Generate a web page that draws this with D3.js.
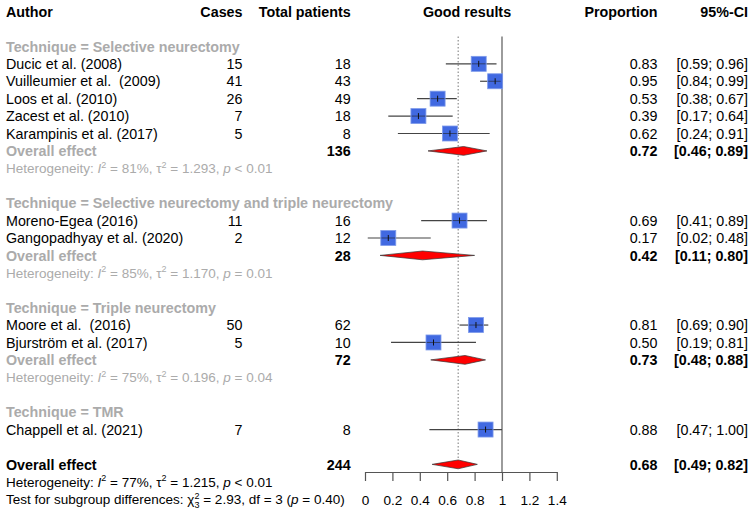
<!DOCTYPE html>
<html>
<head>
<meta charset="utf-8">
<script src="https://cdn.jsdelivr.net/npm/d3@7"></script>
<style>
  html, body { margin: 0; padding: 0; background: #fff; }
  svg text { font-family: "Liberation Sans", Arial, Helvetica, sans-serif; white-space: pre; }
</style>
</head>
<body>
<svg id="chart" width="754" height="512"></svg>
<script>
// ---------- data ----------
const studyAuthors = ["Ducic et al. (2008)", "Vuilleumier et al.  (2009)", "Loos et al. (2010)",
  "Zacest et al. (2010)", "Karampinis et al. (2017)", "Moreno-Egea (2016)",
  "Gangopadhyay et al. (2020)", "Moore et al.  (2016)", "Bjurström et al. (2017)", "Chappell et al. (2021)"];
const studyGroup = [0, 0, 0, 0, 0, 1, 1, 2, 2, 3];
const studyCases = [15, 41, 26, 7, 5, 11, 2, 50, 5, 7];
const studyTotals = [18, 43, 49, 18, 8, 16, 12, 62, 10, 8];
const studyProp = [0.83, 0.95, 0.53, 0.39, 0.62, 0.69, 0.17, 0.81, 0.50, 0.88];
const studyLower = [0.59, 0.84, 0.38, 0.17, 0.24, 0.41, 0.02, 0.69, 0.19, 0.47];
const studyUpper = [0.96, 0.99, 0.67, 0.64, 0.91, 0.89, 0.48, 0.90, 0.81, 1.00];

const groupNames = ["Selective neurectomy", "Selective neurectomy and triple neurectomy", "Triple neurectomy", "TMR"];
const groupTotals = [136, 28, 72, 8];
const groupProp = [0.72, 0.42, 0.73, null];
const groupLower = [0.46, 0.11, 0.48, null];
const groupUpper = [0.89, 0.80, 0.88, null];
const groupI2 = ["81%", "85%", "75%", null];
const groupTau2 = ["1.293", "1.170", "0.196", null];
const groupP = ["< 0.01", "= 0.01", "= 0.04", null];

const overallTotal = 244;
const overallProp = 0.68, overallLower = 0.49, overallUpper = 0.82;
const overallI2 = "77%", overallTau2 = "1.215", overallP = "< 0.01";
const testChi2 = "2.93", testDf = 3, testP = "0.40";

const axisTicks = [0, 0.2, 0.4, 0.6, 0.8, 1, 1.2, 1.4];
const axisTickLabels = ["0", "0.2", "0.4", "0.6", "0.8", "1", "1.2", "1.4"];

// ---------- layout ----------
const svg = d3.select("#chart");
const GRAY = "#ababab";
const FS = 14.3, FSH = 13.5;
const x = d3.scaleLinear().domain([0, 1.4]).range([365, 556.8]);
const yRow = d3.scaleLinear().domain([0, 28]).range([11.6, 499.2]);
const colAuthor = 6, colCases = 242.5, colTotal = 350.7, colProp = 657.5, colCI = 748;
const f2 = d3.format(".2f");
const ciText = (l, u) => "[" + f2(l) + "; " + f2(u) + "]";

function txt(xp, k, s, opt = {}) {
  return svg.append("text")
    .attr("x", xp).attr("y", yRow(k)).attr("dy", "0.36em")
    .attr("text-anchor", opt.anchor || "start")
    .attr("font-size", opt.size || FS)
    .attr("font-weight", opt.bold ? "bold" : "normal")
    .attr("fill", opt.color || "#000")
    .text(s);
}
function hetText(k, i2, tau2, p, color) {
  const t = svg.append("text").attr("x", colAuthor).attr("y", yRow(k)).attr("dy", "0.36em")
    .attr("font-size", FSH).attr("fill", color);
  t.append("tspan").text("Heterogeneity: ");
  t.append("tspan").attr("font-style", "italic").text("I");
  t.append("tspan").attr("font-size", 9).attr("dy", -5.5).text("2");
  t.append("tspan").attr("dy", 5.5).text(" = " + i2 + ", \u03c4");
  t.append("tspan").attr("font-size", 9).attr("dy", -5.5).text("2");
  t.append("tspan").attr("dy", 5.5).text(" = " + tau2 + ", ");
  t.append("tspan").attr("font-style", "italic").text("p");
  t.append("tspan").text(" " + p);
}

// header
txt(colAuthor, 0, "Author", { bold: true });
txt(colCases, 0, "Cases", { bold: true, anchor: "end" });
txt(colTotal, 0, "Total patients", { bold: true, anchor: "end" });
txt(467, 0, "Good results", { bold: true, anchor: "middle" });
txt(colProp, 0, "Proportion", { bold: true, anchor: "end" });
txt(colCI, 0, "95%-CI", { bold: true, anchor: "end" });

// build rows
const studyRows = [], diamondRows = [];
let k = 2;
groupNames.forEach((g, gi) => {
  txt(colAuthor, k, "Technique = " + g, { bold: true, color: GRAY });
  k++;
  studyAuthors.forEach((a, i) => {
    if (studyGroup[i] !== gi) return;
    studyRows.push({ k, i });
    k++;
  });
  if (groupProp[gi] !== null) {
    txt(colAuthor, k, "Overall effect", { bold: true, color: GRAY });
    txt(colTotal, k, String(groupTotals[gi]), { bold: true, anchor: "end" });
    txt(colProp, k, f2(groupProp[gi]), { bold: true, anchor: "end" });
    txt(colCI, k, ciText(groupLower[gi], groupUpper[gi]), { bold: true, anchor: "end" });
    diamondRows.push({ k, est: groupProp[gi], lo: groupLower[gi], hi: groupUpper[gi] });
    k++;
    hetText(k, groupI2[gi], groupTau2[gi], groupP[gi], GRAY);
    k++;
  }
  k++;
});
const overallRow = k;
txt(colAuthor, overallRow, "Overall effect", { bold: true });
txt(colTotal, overallRow, String(overallTotal), { bold: true, anchor: "end" });
txt(colProp, overallRow, f2(overallProp), { bold: true, anchor: "end" });
txt(colCI, overallRow, ciText(overallLower, overallUpper), { bold: true, anchor: "end" });
diamondRows.push({ k: overallRow, est: overallProp, lo: overallLower, hi: overallUpper });
hetText(overallRow + 1, overallI2, overallTau2, overallP, "#000");
{
  const t = svg.append("text").attr("x", colAuthor).attr("y", yRow(overallRow + 2)).attr("dy", "0.36em")
    .attr("font-size", FSH).attr("fill", "#000");
  t.append("tspan").text("Test for subgroup differences: \u03c7");
  t.append("tspan").attr("font-size", 9).attr("dy", -5.5).text("2");
  t.append("tspan").attr("font-size", 9).attr("dx", -5).attr("dy", 9.5).text(String(testDf));
  t.append("tspan").attr("dy", -4).text(" = " + testChi2 + ", df = " + testDf + " (");
  t.append("tspan").attr("font-style", "italic").text("p");
  t.append("tspan").text(" = " + testP + ")");
}

// study text columns
studyRows.forEach(r => {
  const i = r.i;
  txt(colAuthor, r.k, studyAuthors[i]);
  txt(colCases, r.k, String(studyCases[i]), { anchor: "end" });
  txt(colTotal, r.k, String(studyTotals[i]), { anchor: "end" });
  txt(colProp, r.k, f2(studyProp[i]), { anchor: "end" });
  txt(colCI, r.k, ciText(studyLower[i], studyUpper[i]), { anchor: "end" });
});

// reference lines
const axisY = 472;
svg.append("line").attr("x1", x(1)).attr("x2", x(1)).attr("y1", 36.5).attr("y2", axisY)
  .attr("stroke", "#666").attr("stroke-width", 1.3);
svg.append("line").attr("x1", x(overallProp)).attr("x2", x(overallProp)).attr("y1", 36.5).attr("y2", yRow(overallRow) - 4)
  .attr("stroke", "#777").attr("stroke-width", 1).attr("stroke-dasharray", "1.5,2");

// study CIs and squares
const SQ = 15;
studyRows.forEach(r => {
  const i = r.i, yy = yRow(r.k);
  svg.append("line").attr("x1", x(studyLower[i])).attr("x2", x(studyUpper[i]))
    .attr("y1", yy).attr("y2", yy).attr("stroke", "#444").attr("stroke-width", 1.2);
  svg.append("rect").attr("x", x(studyProp[i]) - SQ / 2).attr("y", yy - SQ / 2)
    .attr("width", SQ).attr("height", SQ).attr("fill", "#4169e1")
    .attr("stroke", "#7f9bea").attr("stroke-width", 0.8);
  svg.append("line").attr("x1", x(Math.max(studyLower[i], studyProp[i] - 0.05))).attr("x2", x(Math.min(studyUpper[i], studyProp[i] + 0.05)))
    .attr("y1", yy).attr("y2", yy).attr("stroke", "#222").attr("stroke-width", 1).attr("opacity", 0.6);
  svg.append("line").attr("x1", x(studyProp[i])).attr("x2", x(studyProp[i]))
    .attr("y1", yy - 3).attr("y2", yy + 3).attr("stroke", "#111").attr("stroke-width", 1);
});

// diamonds
diamondRows.forEach(d => {
  const yy = yRow(d.k), h = 4.4;
  const pts = [[x(d.lo), yy], [x(d.est), yy - h], [x(d.hi), yy], [x(d.est), yy + h]];
  svg.append("path").attr("d", d3.line()(pts) + "Z")
    .attr("fill", "#ff0000").attr("stroke", "#333").attr("stroke-width", 0.7);
});

// axis
const axis = d3.axisBottom(x).tickValues(axisTicks)
  .tickFormat((v, i) => axisTickLabels[i]).tickSize(9).tickPadding(14).tickSizeOuter(0);
const gAxis = svg.append("g").attr("transform", `translate(0,${axisY})`).call(axis);
gAxis.select(".domain").attr("stroke", "#555").attr("stroke-width", 1.2);
gAxis.selectAll(".tick line").attr("stroke", "#555").attr("stroke-width", 1.2);
gAxis.selectAll(".tick text").attr("font-size", 13.6).attr("fill", "#000")
  .attr("font-family", "Liberation Sans, Arial, sans-serif");
</script>
</body>
</html>
